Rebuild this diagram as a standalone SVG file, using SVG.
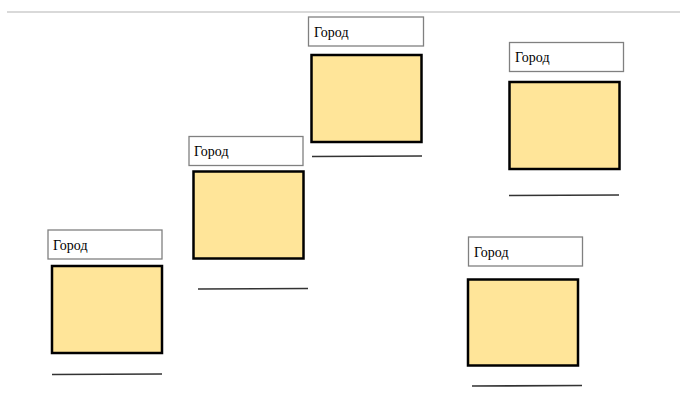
<svg xmlns="http://www.w3.org/2000/svg" width="680" height="401" viewBox="0 0 680 401">
<style>
.lbl{fill:#fff;stroke:#808080;stroke-width:1.3}
.box{fill:#FFE599;stroke:#000;stroke-width:2.5}
.ul{stroke:#333;stroke-width:1.6;fill:none}
.t{font-family:"Liberation Serif","Times New Roman",serif;font-size:14px;fill:#000}
</style>
<rect width="680" height="401" fill="#fff"/>
<line x1="7" y1="12" x2="680" y2="12" stroke="#d9d9d9" stroke-width="1.8"/>
<g id="node1">
<rect class="lbl" x="48" y="230" width="114" height="29"/>
<text class="t" x="53" y="249.5">Город</text>
<rect class="box" x="52" y="266" width="110" height="87"/>
<line class="ul" x1="52" y1="374.5" x2="162" y2="374"/>
</g>
<g id="node2">
<rect class="lbl" x="189" y="136.5" width="114" height="29"/>
<text class="t" x="194" y="156">Город</text>
<rect class="box" x="193.5" y="171.5" width="110" height="87"/>
<line class="ul" x1="198" y1="289" x2="308" y2="288.5"/>
</g>
<g id="node3">
<rect class="lbl" x="308.5" y="17" width="115" height="29"/>
<text class="t" x="314" y="36.5">Город</text>
<rect class="box" x="311.5" y="55" width="110" height="87"/>
<line class="ul" x1="312" y1="156.5" x2="422" y2="156"/>
</g>
<g id="node4">
<rect class="lbl" x="509.5" y="42.5" width="114" height="29"/>
<text class="t" x="515" y="62">Город</text>
<rect class="box" x="509.5" y="82" width="110" height="87"/>
<line class="ul" x1="509" y1="195.5" x2="619" y2="195"/>
</g>
<g id="node5">
<rect class="lbl" x="468.5" y="237" width="114" height="29"/>
<text class="t" x="474" y="256.5">Город</text>
<rect class="box" x="468" y="279.5" width="110" height="86"/>
<line class="ul" x1="472" y1="386" x2="582" y2="385.5"/>
</g>
<g id="connectors"></g>
</svg>
